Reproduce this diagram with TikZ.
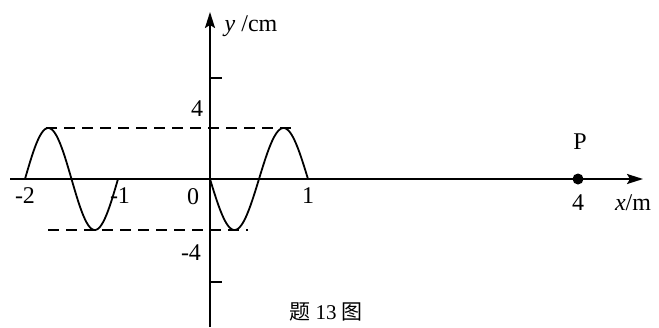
\documentclass[tikz,border=0pt]{standalone}
\usepackage{fontspec}
\setmainfont{Liberation Serif}
\newfontfamily\cjk{Noto Sans CJK SC}
\usetikzlibrary{arrows.meta}
\begin{document}
\begin{tikzpicture}[x=1pt,y=-1pt,
  axisline/.style={line width=2pt,-{Stealth[length=16pt,width=10pt,inset=3pt]}},
  wave/.style={line width=1.8pt},
  dashline/.style={line width=2pt,dash pattern=on 11pt off 7pt},
  lbl/.style={inner sep=0pt,font=\fontsize{24}{27}\selectfont},
  tick/.style={line width=1.8pt}]
\useasboundingbox (0,0) rectangle (659,327);
\fill[white] (0,0) rectangle (659,327);
% axes
\coordinate (xs) at (10,179);
\coordinate (xe) at (643,179);
\coordinate (ys) at (210,327);
\coordinate (ye) at (210,12);
\draw[axisline] (xs) -- (xe);
\draw[axisline] (ys) -- (ye);
% ticks
\coordinate (t1a) at (210,78); \coordinate (t1b) at (222,78);
\coordinate (t2a) at (210,282); \coordinate (t2b) at (222,282);
\draw[tick] (t1a) -- (t1b);
\draw[tick] (t2a) -- (t2b);
% dashed amplitude lines
\coordinate (d1a) at (46,128); \coordinate (d1b) at (294,128);
\coordinate (d2a) at (48,230); \coordinate (d2b) at (248,230);
\draw[dashline] (d1a) -- (d1b);
\draw[dashline] (d2a) -- (d2b);
% waves
\draw[wave] plot[domain=-2:-1,samples=80,smooth] ({25+93*(\x+2)},{179-51*sin(360*\x)});
\draw[wave] plot[domain=0:1,samples=80,smooth] ({210+98*\x},{179+51*sin(360*\x)});
% point P
\fill (578,179) circle (5.5pt);
\node[lbl] (P) at (580,142) {P};
% labels
\node[lbl] (yl) at (251,26) {\textit{y} /cm};
\node[lbl] (yp4) at (197,109) {4};
\node[lbl] (ym4) at (191,253) {-4};
\node[lbl] (x0) at (193,197) {0};
\node[lbl] (xm2) at (25,196) {-2};
\node[lbl] (xm1) at (120,196) {-1};
\node[lbl] (x1) at (308,196) {1};
\node[lbl] (x4) at (578,203) {4};
\node[lbl] (xl) at (633,203) {\textit{x}/m};
\node[inner sep=0pt,font=\fontsize{21}{24}\selectfont] (cap) at (326,312) {{\cjk 题} 13 {\cjk 图}};
\end{tikzpicture}
\end{document}
